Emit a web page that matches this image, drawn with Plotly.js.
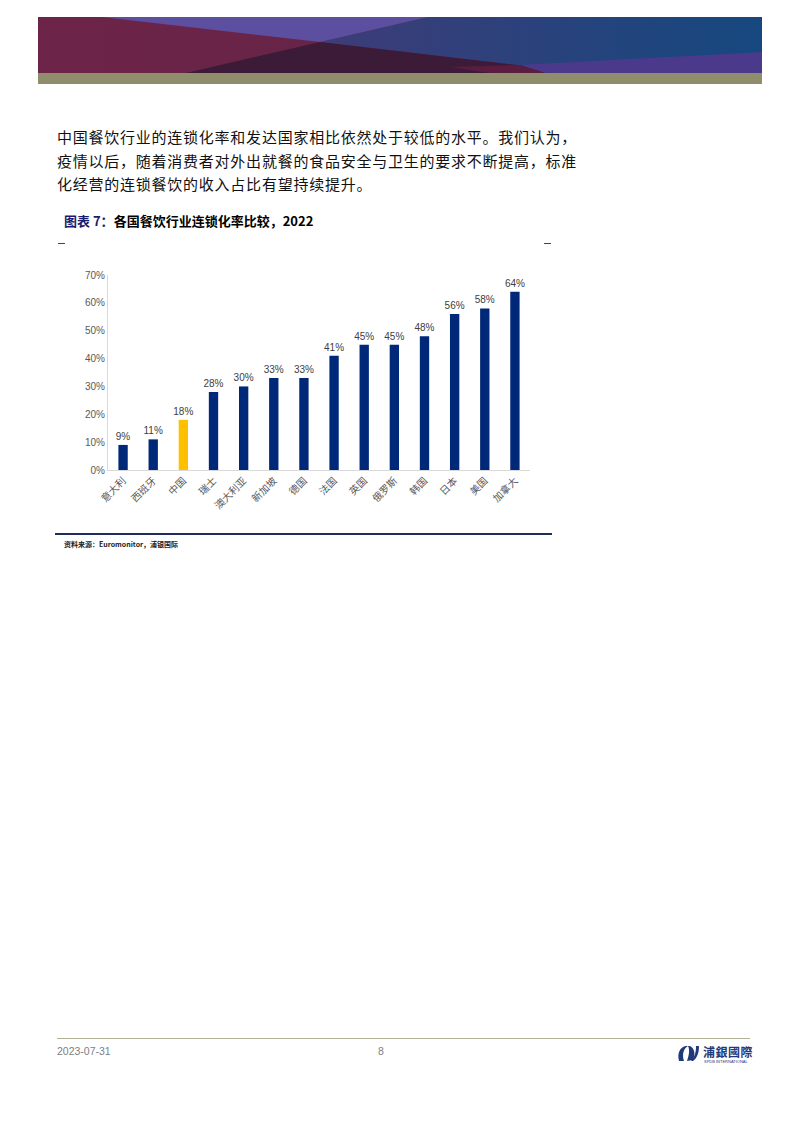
<!DOCTYPE html>
<html>
<head>
<meta charset="utf-8">
<script src="https://cdn.plot.ly/plotly-3.0.1.min.js"></script>
<style>
  html, body { margin:0; padding:0; background:#fff; }
  body { width:793px; height:1122px; position:relative; overflow:hidden; font-family:"Noto Sans CJK SC", sans-serif; }
  .abs { position:absolute; }
  #para { left:57px; top:125px; font-size:15px; letter-spacing:0.76px; line-height:23.5px; color:#111; white-space:nowrap; }
  #ctitle { left:64px; top:211px; font-size:13px; font-weight:bold; color:#000; white-space:nowrap; }
  #ctitle .lab { color:#1b1b6e; }
  .dash { height:1px; background:#444; top:243px; width:7px; }
  #bline { left:55px; top:533px; width:497px; height:1.5px; background:#1f2d5a; }
  #src { left:64px; top:539px; font-size:7px; font-weight:bold; color:#222; white-space:nowrap; }
  #fline { left:57px; top:1038px; width:693px; height:1px; background:#b3b195; }
  .foot { top:1045px; font-family:"Liberation Sans", Arial, sans-serif; font-size:10.5px; color:#808080; }
  #chart { left:55px; top:255px; width:500px; height:265px; }
</style>
</head>
<body>
<svg class="abs" style="left:0;top:0" width="793" height="90">
  <defs>
    <linearGradient id="gblue" x1="0" x2="1" y1="0" y2="0">
      <stop offset="0" stop-color="#3d3c78"/>
      <stop offset="1" stop-color="#16487f"/>
    </linearGradient>
    <linearGradient id="gmar" x1="0" x2="1" y1="0" y2="0">
      <stop offset="0" stop-color="#6d2449"/>
      <stop offset="1" stop-color="#5f2445"/>
    </linearGradient>
  </defs>
  <rect x="38" y="17" width="724" height="56" fill="url(#gmar)"/>
  <polygon points="428,17 762,17 762,73 585,73 320,42" fill="url(#gblue)"/>
  <polygon points="102,17 428,17 320,42" fill="#5d4f9f"/>
  <polygon points="186,73 320,42 585,73" fill="#3c1b39"/>
  <polygon points="520,65 762,52 762,73 545,73" fill="#4b3a8c"/>
  <polygon points="450,67 520,65 545,73 490,73" fill="#5a1d40"/>
  <rect x="38" y="73" width="724" height="11" fill="#908d6c"/>
</svg>

<div id="para" class="abs">中国餐饮行业的连锁化率和发达国家相比依然处于较低的水平。我们认为，<br>疫情以后，随着消费者对外出就餐的食品安全与卫生的要求不断提高，标准<br>化经营的连锁餐饮的收入占比有望持续提升。</div>

<div id="ctitle" class="abs"><span class="lab">图表 7：</span>各国餐饮行业连锁化率比较，2022</div>
<div class="abs dash" style="left:58px"></div>
<div class="abs dash" style="left:544px"></div>

<div id="chart" class="abs"></div>

<div id="bline" class="abs"></div>
<div id="src" class="abs">资料来源：Euromonitor，浦银国际</div>

<div id="fline" class="abs"></div>
<div class="abs foot" style="left:57px">2023-07-31</div>
<div class="abs foot" style="left:378px">8</div>
<svg class="abs" style="left:676px;top:1043px" width="24" height="20">
  <path d="M3,18 C1,10 4,4 10,3 L12,3 C7,6 6,12 8,18 Z" fill="#1f3a7a"/>
  <path d="M11,18 C13,12 14,7 12,3 L14,3 C18,5 20,10 17,17 Z" fill="#1f3a7a"/>
  <path d="M20,3 L23,3 C23,10 21,15 17,18 L15,18 C19,14 20,9 20,3 Z" fill="#1f3a7a"/>
</svg>
<div class="abs" style="left:703px;top:1043px;font-size:12px;font-weight:bold;color:#1f3a7a;letter-spacing:0.5px">浦銀國際</div>
<div class="abs" style="left:704px;top:1059px;font-size:4px;color:#1f3a7a;font-family:'Liberation Sans',sans-serif">SPDB INTERNATIONAL</div>

<script>
const categories = ["意大利","西班牙","中国","瑞士","澳大利亚","新加坡","德国","法国","英国","俄罗斯","韩国","日本","美国","加拿大"];
const values = [9, 11, 18, 28, 30, 33, 33, 41, 45, 45, 48, 56, 58, 64];
const highlight = "中国";
const yTicks = [0, 10, 20, 30, 40, 50, 60, 70];

const colors = categories.map(c => c === highlight ? "#FFC000" : "#002878");

const trace = {
  type: "bar",
  x: categories,
  y: values,
  marker: { color: colors },
  width: 0.31,
  text: values.map(v => v + "%"),
  textposition: "outside",
  constraintext: "none",
  textfont: { family: "Liberation Sans, Arial, sans-serif", size: 10, color: "#404040" },
  cliponaxis: false,
  hoverinfo: "none"
};

const layout = {
  width: 500, height: 265,
  margin: { l: 53, r: 25, t: 20, b: 50 },
  paper_bgcolor: "rgba(0,0,0,0)",
  plot_bgcolor: "rgba(0,0,0,0)",
  showlegend: false,
  xaxis: {
    type: "category",
    tickangle: -45,
    tickfont: { family: "Noto Sans CJK SC, sans-serif", size: 10, color: "#595959" },
    showline: true, linecolor: "#d9d9d9", linewidth: 1,
    ticks: "", showgrid: false, zeroline: false, fixedrange: true
  },
  yaxis: {
    range: [0, 70],
    tickvals: yTicks,
    ticktext: yTicks.map(v => v + "%"),
    tickfont: { family: "Liberation Sans, Arial, sans-serif", size: 10, color: "#595959" },
    showline: true, linecolor: "#d9d9d9", linewidth: 1,
    ticks: "", ticklen: 0, showgrid: false, zeroline: false, fixedrange: true
  }
};

Plotly.newPlot("chart", [trace], layout, { displayModeBar: false, staticPlot: true });
</script>
</body>
</html>
